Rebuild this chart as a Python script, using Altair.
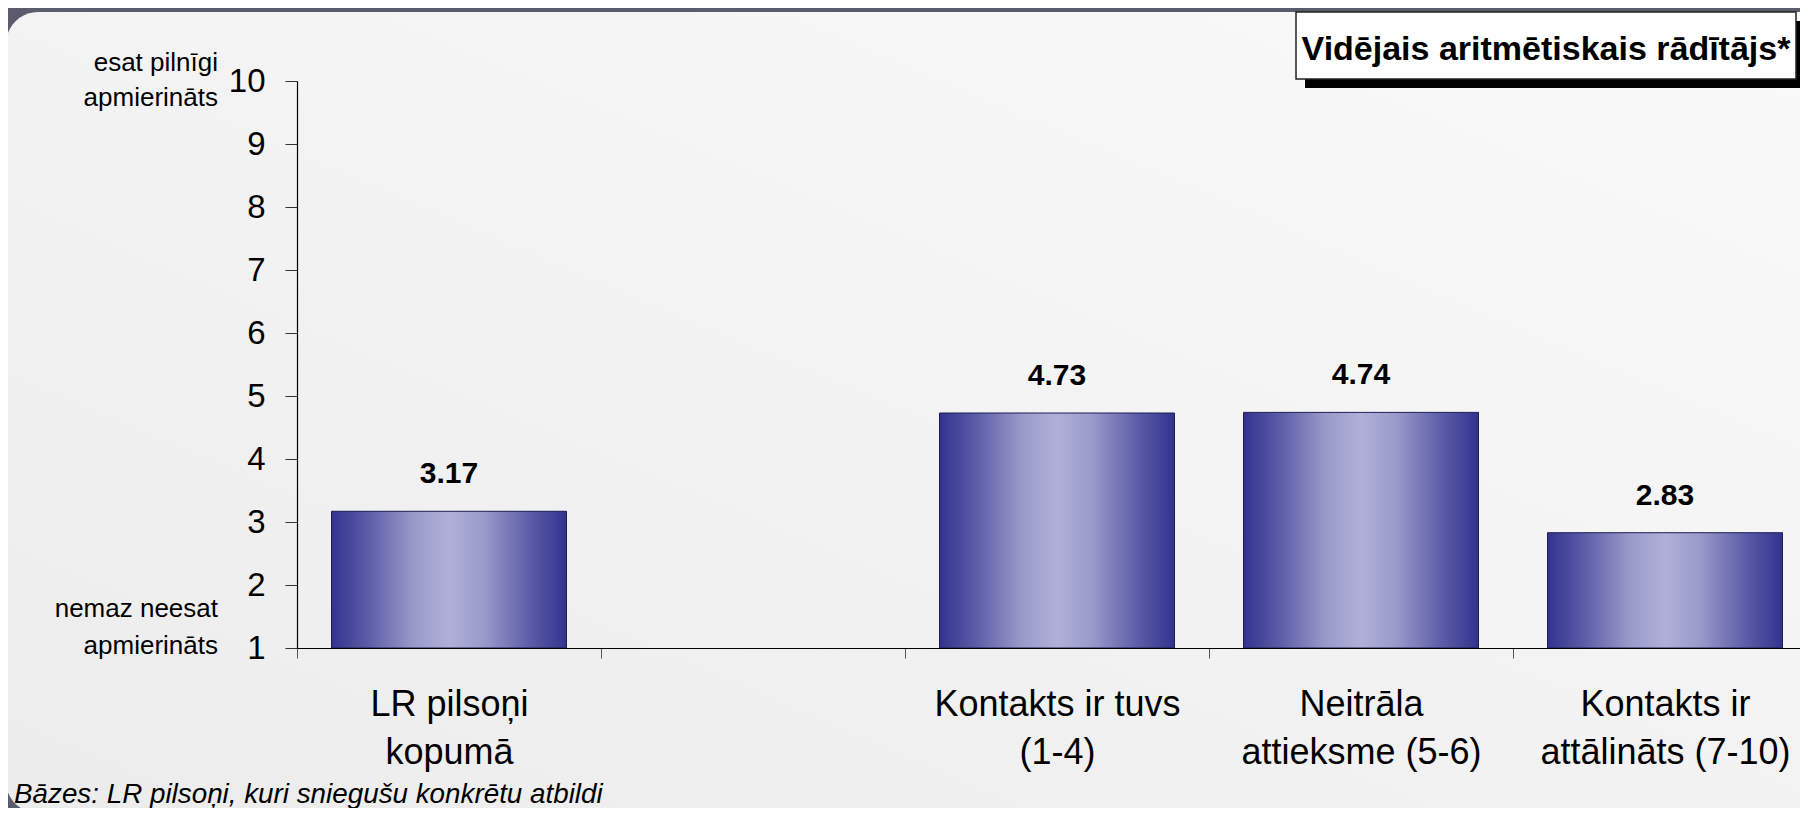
import altair as alt
import pandas as pd

# ---- data ----
categories = ["LR pilsoņi|kopumā", " ", "Kontakts ir tuvs|(1-4)",
              "Neitrāla|attieksme (5-6)", "Kontakts ir|attālināts (7-10)"]
bar_categories = ["LR pilsoņi|kopumā", "Kontakts ir tuvs|(1-4)",
                  "Neitrāla|attieksme (5-6)", "Kontakts ir|attālināts (7-10)"]
values = [3.17, 4.73, 4.74, 2.83]
value_labels = ["3.17", "4.73", "4.74", "2.83"]
y_ticks = [1, 2, 3, 4, 5, 6, 7, 8, 9, 10]
top_note = ["esat pilnīgi", "apmierināts"]
bottom_note = ["nemaz neesat", "apmierināts"]
title_text = "Vidējais aritmētiskais rādītājs*"
footnote = "Bāzes: LR pilsoņi, kuri sniegušu konkrētu atbildi"

df = pd.DataFrame({"cat": bar_categories, "value": values,
                   "label": value_labels, "base": [1] * len(values)})
one = pd.DataFrame({"a": [0]})

FONT = "Liberation Sans"

bar_gradient = alt.LinearGradient(
    gradient="linear", x1=0, x2=1, y1=0, y2=0,
    stops=[alt.GradientStop(color="#33338f", offset=0),
           alt.GradientStop(color="#5a5aa6", offset=0.15),
           alt.GradientStop(color="#9a9aca", offset=0.35),
           alt.GradientStop(color="#b0b0d8", offset=0.5),
           alt.GradientStop(color="#9a9aca", offset=0.65),
           alt.GradientStop(color="#5a5aa6", offset=0.85),
           alt.GradientStop(color="#33338f", offset=1)])

panel_gradient = alt.LinearGradient(
    gradient="linear", x1=0, y1=1, x2=1, y2=0,
    stops=[alt.GradientStop(color="#ececec", offset=0),
           alt.GradientStop(color="#fafafa", offset=1)])

x_scale = alt.Scale(domain=categories, range=[0, 1520],
                    paddingInner=0, paddingOuter=0)
y_scale = alt.Scale(domain=[1, 10], zero=False, nice=False)

x_enc = alt.X("cat:N", scale=x_scale, sort=categories,
              axis=alt.Axis(title=None,
                            labelExpr="isValid(datum.value) ? split(datum.value, '|') : ''",
                            labelFontSize=36, labelFont=FONT, labelColor="black",
                            labelLineHeight=48, labelPadding=57,
                            labelBaseline="alphabetic", labelAngle=0,
                            labelLimit=600, labelBound=False,
                            labelOverlap=False, tickBand="extent", tickSize=10,
                            tickColor="#555555", domainColor="black",
                            domainWidth=1.2, zindex=1))
y_enc = alt.Y("value:Q", scale=y_scale,
              axis=alt.Axis(title=None, values=y_ticks, format="d",
                            labelFontSize=33,
                            labelFont=FONT, labelColor="black", tickSize=12,
                            labelPadding=20, tickColor="#333333",
                            domainColor="black", domainWidth=1.2, grid=False,
                            zindex=1))

panel = alt.Chart(one).mark_rect(color=panel_gradient, cornerRadius=32).encode(
    x=alt.value(-291), x2=alt.value(1600), y=alt.value(-69), y2=alt.value(732))

bars = alt.Chart(df).mark_bar(color=bar_gradient, stroke="#1c1c55",
                              strokeWidth=1,
                              width=alt.RelativeBandSize(0.773)).encode(
    x=x_enc, y=y_enc, y2="base")

labels = alt.Chart(df).mark_text(font=FONT, fontWeight="bold", fontSize=30,
                                 baseline="alphabetic", dy=-28,
                                 color="black").encode(
    x=alt.X("cat:N", scale=x_scale, sort=categories),
    y=alt.Y("value:Q", scale=y_scale), text="label:N")

note_top = alt.Chart(one).mark_text(font=FONT, fontSize=26, align="right",
                                    baseline="alphabetic", lineHeight=35,
                                    color="black").encode(
    x=alt.value(-79), y=alt.value(-10), text=alt.value(top_note))
note_bottom = alt.Chart(one).mark_text(font=FONT, fontSize=26, align="right",
                                       baseline="alphabetic", lineHeight=37,
                                       color="black").encode(
    x=alt.value(-79), y=alt.value(536), text=alt.value(bottom_note))

shadow = alt.Chart(one).mark_rect(color="black").encode(
    x=alt.value(1008), x2=alt.value(1510), y=alt.value(-60), y2=alt.value(7))
box = alt.Chart(one).mark_rect(fill="white", stroke="#222222",
                               strokeWidth=1.5).encode(
    x=alt.value(999), x2=alt.value(1499), y=alt.value(-69), y2=alt.value(-2))
box_text = alt.Chart(one).mark_text(font=FONT, fontWeight="bold", fontSize=34,
                                    align="center", baseline="alphabetic",
                                    color="black").encode(
    x=alt.value(1249), y=alt.value(-21), text=alt.value(title_text))

foot = alt.Chart(one).mark_text(font=FONT, fontStyle="italic", fontSize=27.8,
                                align="left", baseline="alphabetic",
                                color="black").encode(
    x=alt.value(-283), y=alt.value(722), text=alt.value(footnote))

chart = alt.layer(panel, bars, labels, note_top, note_bottom, shadow, box,
                  box_text, foot).properties(
    width=1503, height=567,
    padding={"left": 289, "top": 73, "right": 0, "bottom": 160},
    autosize=alt.AutoSizeParams(type="none"),
    background="#5a5c6d",
).configure_view(stroke=None).configure(font=FONT)

chart.save("out.html", embed_options={"renderer": "svg", "actions": False})
